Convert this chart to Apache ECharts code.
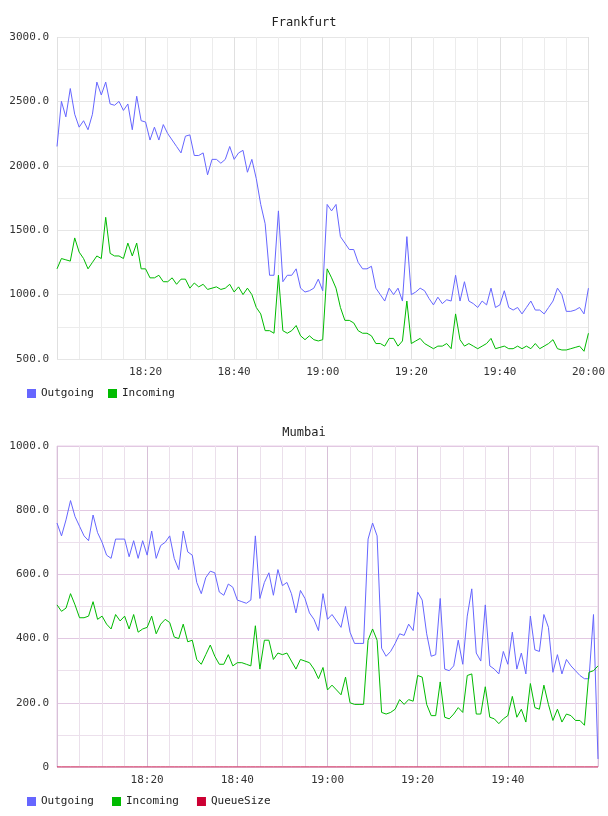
<!DOCTYPE html>
<html>
<head>
<meta charset="utf-8">
<script src="https://cdn.jsdelivr.net/npm/echarts@6/dist/echarts.min.js"></script>
<style>
  html, body { margin: 0; padding: 0; background: #fff; }
  #chart { width: 608px; height: 816px; }
</style>
</head>
<body>
<div id="chart"></div>
<script>
/* =========================================
   DATA (one value per minute from 18:00)
   ========================================= */
const frankfurtOutgoing = [2150,2500,2380,2600,2400,2300,2350,2280,2400,2650,2550,2650,2480,2470,2500,2430,2480,2280,2540,2350,
  2340,2200,2300,2200,2320,2250,2200,2150,2100,2230,2240,2080,2080,2100,1930,2050,2050,2020,2050,2150,
  2050,2100,2120,1950,2050,1900,1700,1550,1150,1150,1650,1100,1150,1150,1200,1050,1020,1030,1050,1120,
  1030,1700,1650,1700,1450,1400,1350,1350,1250,1200,1200,1220,1050,1000,950,1050,1000,1050,950,1450,
  1000,1020,1050,1030,970,920,980,930,960,950,1150,950,1100,950,930,900,950,920,1050,900,
  920,1030,900,880,900,850,900,950,880,880,850,900,950,1050,1000,870,870,880,900,850,1050];
const frankfurtIncoming = [1200,1280,1270,1260,1440,1330,1280,1200,1250,1300,1280,1600,1320,1300,1300,1280,1400,1300,1400,1200,
  1200,1130,1130,1150,1100,1100,1130,1080,1120,1120,1050,1090,1060,1080,1040,1050,1060,1040,1050,1080,
  1020,1060,1000,1050,1000,900,850,720,720,700,1150,720,700,720,760,680,650,680,650,640,
  650,1200,1130,1050,900,800,800,780,720,700,700,680,620,620,600,660,660,600,640,950,
  620,640,660,620,600,580,600,600,620,580,850,650,600,620,600,580,600,620,660,580,
  590,600,580,580,600,580,600,580,620,580,600,620,650,580,570,570,580,590,600,560,700];

const mumbaiOutgoing = [760,720,770,830,780,750,720,705,785,730,700,660,650,710,710,710,655,705,650,705,
  660,735,650,690,700,720,650,615,735,670,660,575,540,590,610,605,545,535,570,560,
  520,515,510,520,720,525,575,605,535,615,565,575,540,480,550,525,480,460,425,540,
  460,475,455,435,500,420,385,385,385,710,760,720,370,345,360,385,415,410,445,425,
  545,520,415,345,350,525,305,300,315,395,320,470,555,355,330,505,315,305,290,360,
  320,420,305,355,290,470,365,360,475,435,295,350,290,335,315,300,285,275,275,475,25];
const mumbaiIncoming = [505,485,495,540,505,465,465,470,515,460,470,445,430,475,455,470,430,475,420,430,
  435,470,415,445,460,450,405,400,445,390,395,335,320,350,380,345,320,320,350,315,
  325,325,320,315,440,305,395,395,335,355,350,355,330,305,335,330,325,305,275,310,
  240,255,240,225,280,200,195,195,195,395,430,395,170,165,170,180,210,195,210,205,
  285,280,195,160,160,265,155,150,165,185,170,285,290,165,165,250,155,150,135,150,
  160,220,155,180,140,260,185,180,255,195,145,180,140,165,160,145,145,130,295,300,315];
const mumbaiQueue = new Array(121).fill(0);

const startHour = 18;
const FONT = "DejaVu Sans Mono";

function withMinutes(values) {
  return values.map((v, i) => [i, v]);
}

function timeLabel(m) {
  if (m === 0) return "";
  const h = startHour + Math.floor(m / 60);
  const mm = m % 60;
  return h + ":" + (mm < 10 ? "0" + mm : mm);
}

/* =========================================
   CHART
   ========================================= */
function initChart() {
  const chart = echarts.init(document.getElementById("chart"), null, { renderer: "canvas" });

  const line = (name, data, color, x, y) => ({
    name, type: "line", data: withMinutes(data), xAxisIndex: x, yAxisIndex: y,
    showSymbol: false, lineStyle: { color, width: 1 }, itemStyle: { color }, animation: false
  });

  const xAxis = (gi, max, major, minor) => ({
    type: "value", gridIndex: gi, min: 0, max, interval: 20,
    axisLine: { show: false }, axisTick: { show: false },
    axisLabel: { color: "#333", fontFamily: FONT, fontSize: 11,
      formatter: v => (v === max && gi === 1) ? "" : timeLabel(v) },
    splitLine: { lineStyle: { color: major } },
    minorTick: { show: false, splitNumber: 4 },
    minorSplitLine: { show: true, lineStyle: { color: minor } }
  });

  chart.setOption({
    backgroundColor: "#fff",
    textStyle: { fontFamily: FONT },
    title: [
      { text: "Frankfurt", left: "center", top: 12, textStyle: { fontFamily: FONT, fontSize: 12, fontWeight: "normal", color: "#222" } },
      { text: "Mumbai", left: "center", top: 422, textStyle: { fontFamily: FONT, fontSize: 12, fontWeight: "normal", color: "#222" } }
    ],
    legend: [
      { data: ["Outgoing", "Incoming"], left: 22, top: 383, itemWidth: 9, itemHeight: 9, itemGap: 14, icon: "rect",
        textStyle: { fontFamily: FONT, fontSize: 11, color: "#222" } },
      { data: ["Outgoing", "Incoming", "QueueSize"], left: 22, top: 791, itemWidth: 9, itemHeight: 9, itemGap: 18, icon: "rect",
        textStyle: { fontFamily: FONT, fontSize: 11, color: "#222" } }
    ],
    grid: [
      { left: 57, right: 17, top: 37, height: 322 },
      { left: 57, right: 10, top: 446, height: 321, show: true, borderColor: "#e8d0e8", borderWidth: 1 }
    ],
    xAxis: [
      xAxis(0, 120, "#e0e0e0", "#ececec"),
      xAxis(1, 120, "#d8c0d8", "#ebe0eb")
    ],
    yAxis: [
      { type: "value", gridIndex: 0, min: 500, max: 3000, interval: 500,
        axisLine: { show: false }, axisTick: { show: false },
        axisLabel: { color: "#333", fontFamily: FONT, fontSize: 11, formatter: v => v.toFixed(1) },
        splitLine: { lineStyle: { color: "#e6e6e6" } },
        minorTick: { show: false, splitNumber: 2 }, minorSplitLine: { show: true, lineStyle: { color: "#ececec" } } },
      { type: "value", gridIndex: 1, min: 0, max: 1000, interval: 200,
        axisLine: { show: false }, axisTick: { show: false },
        axisLabel: { color: "#333", fontFamily: FONT, fontSize: 11, formatter: v => v === 0 ? "0" : v.toFixed(1) },
        splitLine: { lineStyle: { color: "#e2c8e2" } },
        minorTick: { show: false, splitNumber: 2 }, minorSplitLine: { show: true, lineStyle: { color: "#ece0ec" } } }
    ],
    series: [
      line("Outgoing", frankfurtOutgoing, "#6666ff", 0, 0),
      line("Incoming", frankfurtIncoming, "#00bb00", 0, 0),
      line("Outgoing", mumbaiOutgoing, "#6666ff", 1, 1),
      line("Incoming", mumbaiIncoming, "#00bb00", 1, 1),
      line("QueueSize", mumbaiQueue, "#cc0033", 1, 1)
    ]
  });
}

document.addEventListener("DOMContentLoaded", initChart);
</script>
</body>
</html>
